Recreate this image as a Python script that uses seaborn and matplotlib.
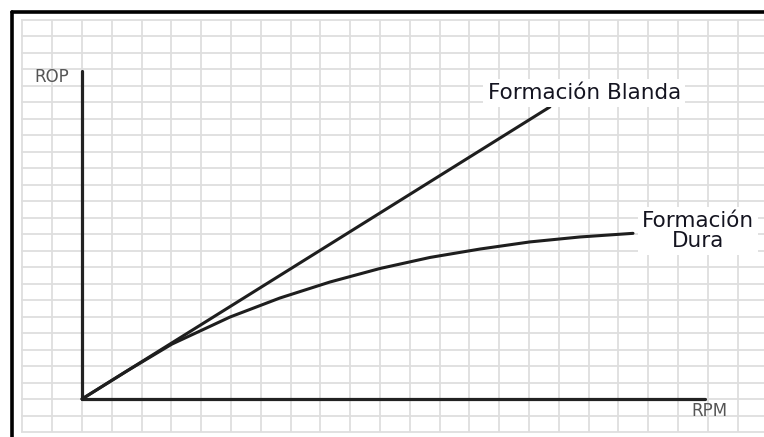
import matplotlib.pyplot as plt
import pandas as pd
import seaborn as sns

# Datos (unidades = celdas de la cuadricula)
rpm_blanda = [0, 15.7]
rop_blanda = [0, 17.7]

rpm_dura = [0, 1.51, 3.02, 4.97, 6.64, 8.32, 10.0, 11.68, 13.36, 15.03,
            16.71, 18.49]
rop_dura = [0, 1.70, 3.33, 4.97, 6.12, 7.09, 7.91, 8.58, 9.09, 9.52,
            9.82, 10.04]

eje_x_max = 20.9
eje_y_max = 19.9

sns.set_style('white')
plt.rcParams['font.family'] = ['DejaVu Sans']

df_blanda = pd.DataFrame({'RPM': rpm_blanda, 'ROP': rop_blanda})
df_dura = pd.DataFrame({'RPM': rpm_dura, 'ROP': rop_dura})

fig = plt.figure(figsize=(7.64, 4.37), dpi=100)
ax = fig.add_axes([0, 0, 1, 1])

# limites para que el origen quede en el mismo sitio que la imagen
ax.set_xlim(-82 / 29.8, 682 / 29.8)
ax.set_ylim(-38 / 16.5, 399 / 16.5)

# cuadricula de fondo
ax.hlines(range(-2, 24), -2.05, 23, color='#dedede', lw=1.3, zorder=0)
ax.vlines(range(-2, 23), -2, 23, color='#dedede', lw=1.3, zorder=0)

# ejes
ax.plot([0, 0], [0, eje_y_max], color='#222222', lw=2.3, zorder=2)
ax.plot([0, eje_x_max], [0, 0], color='#222222', lw=2.3, zorder=2)

# curvas
sns.lineplot(data=df_blanda, x='RPM', y='ROP', ax=ax, color='#1e1e1e',
             lw=2.2, sort=False, zorder=3)
sns.lineplot(data=df_dura, x='RPM', y='ROP', ax=ax, color='#1e1e1e',
             lw=2.2, sort=False, zorder=3)

# textos
ax.text(-1.0, 19.5, 'ROP', fontsize=12, color='#555555',
        ha='center', va='center')
ax.text(21.04, -0.75, 'RPM', fontsize=12, color='#555555',
        ha='center', va='center')
ax.text(16.85, 18.55, 'Formación Blanda', fontsize=15.5, color='#141420',
        ha='center', va='center', zorder=4,
        bbox=dict(facecolor='white', edgecolor='none', pad=3))
ax.text(20.67, 10.18, 'Formación\nDura', fontsize=15.5, color='#141420',
        ha='center', va='center', linespacing=1.0, zorder=4,
        bbox=dict(facecolor='white', edgecolor='none', pad=3))

ax.set_xlabel('')
ax.set_ylabel('')
ax.set_xticks([])
ax.set_yticks([])
for s in ax.spines.values():
    s.set_visible(False)

# marco negro (arriba e izquierda)
x0 = 12 / 764
y0 = 1 - 12 / 437
fig.add_artist(plt.Line2D([x0, x0], [-0.05, y0], color='black', lw=2.6,
                          transform=fig.transFigure))
fig.add_artist(plt.Line2D([x0, 1.05], [y0, y0], color='black', lw=2.6,
                          transform=fig.transFigure))

fig.savefig('out.png', dpi=100)
